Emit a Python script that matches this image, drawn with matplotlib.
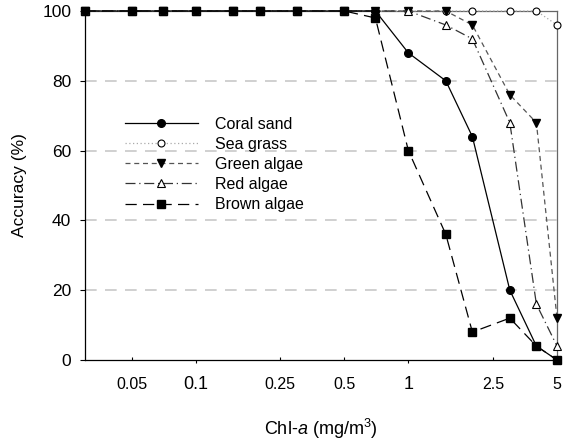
import matplotlib
matplotlib.use("Agg")
import matplotlib.pyplot as plt
from matplotlib.ticker import FixedLocator, FixedFormatter

plt.rcParams["font.family"] = ["Liberation Sans", "DejaVu Sans"]
plt.rcParams["mathtext.fontset"] = "custom"
plt.rcParams["mathtext.rm"] = "Liberation Sans"
plt.rcParams["mathtext.it"] = "Liberation Sans:italic"

# Chl-a concentrations (mg/m3)
chl = [0.03, 0.05, 0.07, 0.1, 0.15, 0.2, 0.3, 0.5, 0.7, 1, 1.5, 2, 3, 4, 5]

coral_sand = [100, 100, 100, 100, 100, 100, 100, 100, 100, 88, 80, 64, 20, 4, 0]
sea_grass = [100, 100, 100, 100, 100, 100, 100, 100, 100, 100, 100, 100, 100, 100, 96]
green_algae = [100, 100, 100, 100, 100, 100, 100, 100, 100, 100, 100, 96, 76, 68, 12]
red_algae = [100, 100, 100, 100, 100, 100, 100, 100, 100, 100, 96, 92, 68, 16, 4]
brown_algae = [100, 100, 100, 100, 100, 100, 100, 100, 98, 60, 36, 8, 12, 4, 0]

major_ticks = [0.1, 1]
major_labels = ["0.1", "1"]
minor_ticks = [0.05, 0.25, 0.5, 2.5, 5]
minor_labels = ["0.05", "0.25", "0.5", "2.5", "5"]
y_ticks = [0, 20, 40, 60, 80, 100]

fig = plt.figure(figsize=(5.63, 4.43), dpi=100)
ax = fig.add_axes([84.5 / 563, 1 - 360 / 443, 472.5 / 563, 349 / 443])

# light dashed reference lines
for yv in y_ticks[1:-1]:
    ax.axhline(yv, color="#c8c8c8", lw=1.2, ls=(0, (7, 5)), zorder=0)

common = dict(lw=0.9, clip_on=False)
ax.plot(chl, sea_grass, ls=(0, (1, 2)), color="#aaaaaa", marker="o", ms=5,
        mfc="white", mec="black", mew=0.8, label="Sea grass", zorder=3, **common)
ax.plot(chl, green_algae, ls=(0, (4, 3)), color="#555555", marker="v", ms=5.5,
        mfc="black", mec="black", label="Green algae", zorder=4, **common)
ax.plot(chl, brown_algae, ls=(0, (9, 5)), color="black", marker="s", ms=6,
        mfc="black", mec="black", label="Brown algae", zorder=5, **common)
ax.plot(chl, red_algae, ls=(0, (8, 3, 1, 3)), color="#333333", marker="^", ms=5.5,
        mfc="white", mec="black", mew=0.8, label="Red algae", zorder=6, **common)
ax.plot(chl, coral_sand, ls="-", color="black", marker="o", ms=5.5,
        mfc="black", mec="black", label="Coral sand", zorder=7, **common)

ax.set_xscale("log")
ax.set_xlim(0.03, 5)
ax.set_ylim(0, 100)

ax.xaxis.set_major_locator(FixedLocator(major_ticks))
ax.xaxis.set_major_formatter(FixedFormatter(major_labels))
ax.xaxis.set_minor_locator(FixedLocator(minor_ticks))
ax.xaxis.set_minor_formatter(FixedFormatter(minor_labels))
ax.tick_params(axis="x", which="major", direction="out", length=2.5, width=0.8,
               labelsize=13, pad=9)
ax.tick_params(axis="x", which="minor", direction="in", length=2.5, width=0.8,
               labelsize=11.5, pad=12)

ax.set_yticks(y_ticks)
ax.tick_params(axis="y", direction="out", length=3.5, width=0.8, labelsize=12.5, pad=6)

for side in ["left", "bottom"]:
    ax.spines[side].set_linewidth(0.9)
for side in ["top", "right"]:
    ax.spines[side].set_color("#666666")
    ax.spines[side].set_linewidth(0.9)

ax.set_xlabel("Chl-$a$ (mg/m$^3$)", fontsize=13, labelpad=17)
ax.set_ylabel("Accuracy (%)", fontsize=12.5, labelpad=11)

handles, labels = ax.get_legend_handles_labels()
order = ["Coral sand", "Sea grass", "Green algae", "Red algae", "Brown algae"]
hmap = dict(zip(labels, handles))
ax.legend([hmap[k] for k in order], order, loc="upper left",
          bbox_to_anchor=(0.0857, 0.697), frameon=False, fontsize=11.5,
          handlelength=4.55, handletextpad=1.1, labelspacing=0.32,
          borderpad=0, borderaxespad=0, numpoints=1)

fig.savefig("out.png", dpi=100)
